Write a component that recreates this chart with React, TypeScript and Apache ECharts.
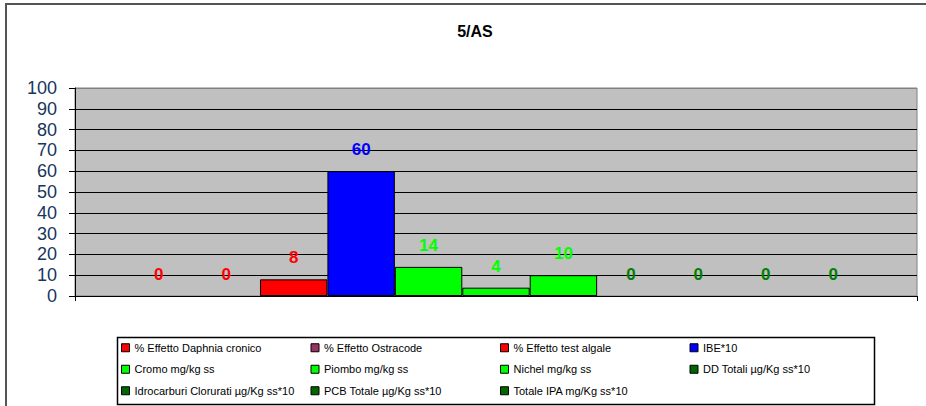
import React, { useEffect, useRef } from "react";
import * as echarts from "echarts";

const categories = [""];
const seriesNames = [
  "% Effetto Daphnia cronico",
  "% Effetto Ostracode",
  "% Effetto test algale",
  "IBE*10",
  "Cromo mg/kg ss",
  "Piombo mg/kg ss",
  "Nichel mg/kg ss",
  "DD Totali µg/Kg ss*10",
  "Idrocarburi Clorurati µg/Kg ss*10",
  "PCB Totale µg/Kg ss*10",
  "Totale IPA mg/Kg ss*10",
];
const seriesValues = [0, 0, 8, 60, 14, 4, 10, 0, 0, 0, 0];
const yTicks = [0, 10, 20, 30, 40, 50, 60, 70, 80, 90, 100];
const chartTitle = "5/AS";

const barColors = [
  "#FF0000", "#993366", "#FF0000", "#0000FF",
  "#00FF00", "#00FF00", "#00FF00",
  "#006600", "#006600", "#006600", "#006600",
];
const labelColors = [
  "#FF0000", "#FF0000", "#FF0000", "#0000FF",
  "#00FF00", "#00FF00", "#00FF00",
  "#008000", "#008000", "#008000", "#008000",
];

export default function App() {
  const ref = useRef<HTMLDivElement>(null);
  useEffect(() => {
    if (!ref.current) return;
    const chart = echarts.init(ref.current, null, { renderer: "svg" });
    const splitColors = yTicks.map((t) => (t === yTicks[yTicks.length - 1] ? "#808080" : "#000000"));
    chart.setOption({
      animation: false,
      backgroundColor: "#FFFFFF",
      title: {
        text: chartTitle,
        left: 470,
        textAlign: "center",
        top: 18,
        textStyle: { fontFamily: "Arial", fontSize: 16, fontWeight: "bold", color: "#000" },
      },
      grid: {
        left: 75,
        right: 9,
        top: 88,
        bottom: 110,
        show: true,
        backgroundColor: "#C0C0C0",
        borderColor: "#808080",
        borderWidth: 1,
      },
      xAxis: {
        type: "category",
        data: categories,
        axisLine: { show: true, lineStyle: { color: "#000", width: 1 } },
        axisTick: { show: true, alignWithLabel: false, length: 5, lineStyle: { color: "#000" } },
        axisLabel: { show: false },
        splitLine: { show: false },
      },
      yAxis: {
        type: "value",
        min: 0,
        max: 100,
        interval: 10,
        axisLine: { show: true, lineStyle: { color: "#000", width: 1 } },
        axisTick: { show: true, length: 6, lineStyle: { color: "#000" } },
        axisLabel: {
          margin: 18,
          fontFamily: "Arial",
          fontSize: 18,
          color: "#17365D",
        },
        splitLine: { show: true, lineStyle: { color: splitColors, width: 1.2 } },
      },
      legend: {
        left: 116,
        top: 332,
        width: 765,
        itemWidth: 8,
        itemHeight: 8,
        itemGap: 0,
        icon: "rect",
        itemStyle: { borderColor: "#000", borderWidth: 1 },
        textStyle: {
          fontFamily: "Arial",
          fontSize: 11,
          color: "#000",
          width: 176,
          lineHeight: 21.5,
        },
        data: seriesNames,
      },
      graphic: [
        {
          type: "rect",
          shape: { x: 6, y: 4, width: 960, height: 440 },
          style: { fill: "none", stroke: "#555", lineWidth: 2 },
          silent: true,
        },
        {
          type: "rect",
          shape: { x: 117.5, y: 337.5, width: 757, height: 67 },
          style: { fill: "none", stroke: "#000", lineWidth: 1.5 },
          silent: true,
        },
      ],
      series: seriesNames.map((name, i) => ({
        name,
        type: "bar",
        data: [seriesValues[i]],
        barGap: "0%",
        barCategoryGap: "11.9%",
        itemStyle: {
          color: barColors[i],
          borderColor: "#000",
          borderWidth: seriesValues[i] > 0 ? 1 : 0,
        },
        label: {
          show: true,
          position: "top",
          distance: 13,
          fontFamily: "Arial",
          fontSize: 17,
          fontWeight: "bold",
          color: labelColors[i],
        },
      })),
    });
    return () => chart.dispose();
  }, []);
  return (
    <div
      ref={ref}
      style={{ position: "fixed", left: 0, top: 0, width: 926, height: 406 }}
    />
  );
}
